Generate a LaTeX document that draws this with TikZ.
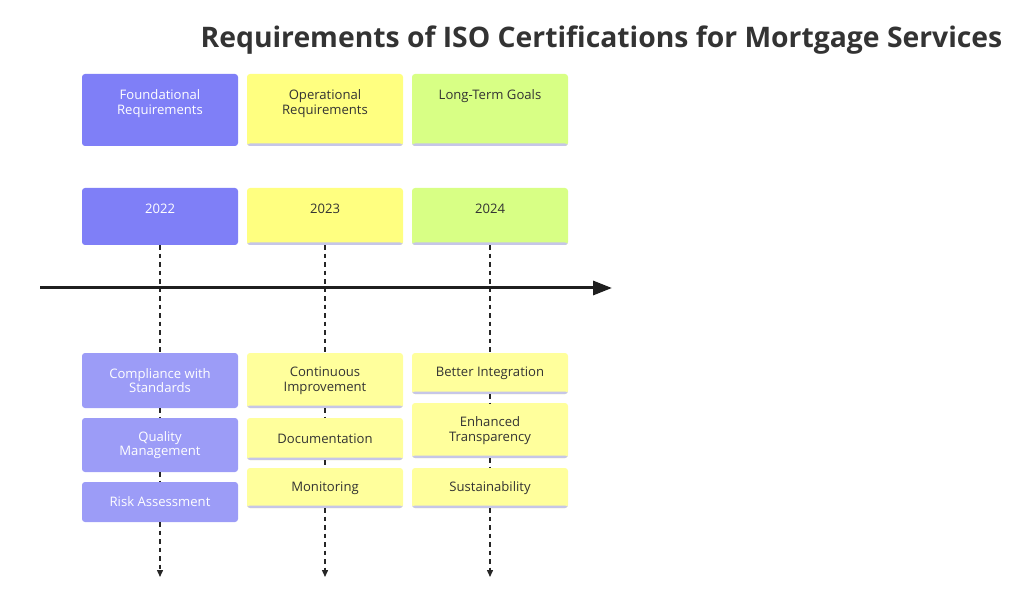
\documentclass[tikz,border=0pt]{standalone}
\usepackage{fontspec}
\setmainfont{Open Sans}
\usetikzlibrary{positioning,arrows.meta}

\definecolor{purphead}{HTML}{7F7FF7}
\definecolor{purpitem}{HTML}{9C9CF7}
\definecolor{yelhead}{HTML}{FFFF80}
\definecolor{yelitem}{HTML}{FFFF9C}
\definecolor{grnhead}{HTML}{D8FF85}
\definecolor{edgeline}{HTML}{C6C6E8}
\definecolor{inkgray}{HTML}{333333}

\begin{document}
\begin{tikzpicture}[
  x=1pt, y=-1pt,
  font=\fontsize{13.1}{14.6}\selectfont,
  card/.style={rounded corners=3pt, minimum width=156pt, inner sep=0pt, align=center, text=inkgray},
  ruled/.style={path picture={\fill[edgeline] (path picture bounding box.south west) rectangle ([yshift=2.5pt]path picture bounding box.south east);}},
  cardtext/.style={anchor=north, inner sep=0pt, align=center, text=inkgray},
  guide/.style={draw=black!85, line width=1.4pt, dash pattern=on 4.5pt off 4pt},
  timeline/.style={draw=black!88, line width=3pt, -{Triangle[length=19pt, width=14pt]}}
]
\useasboundingbox (0,0) rectangle (1024,593);

\node[font=\fontsize{28.3}{33}\selectfont\bfseries, text=inkgray] (title) at (601.5,40) {Requirements of ISO Certifications for Mortgage Services};

% headers
\node[card, fill=purphead, minimum height=72pt] (hdrfound) at (160,110) {};
\node[card, ruled, fill=yelhead, minimum height=72pt] (hdroper) at (325,110) {};
\node[card, ruled, fill=grnhead, minimum height=72pt] (hdrgoal) at (490,110) {};
\node[cardtext, text=white, below=16pt of hdrfound.north] (lblfound) {Foundational\\Requirements};
\node[cardtext, below=16pt of hdroper.north] (lbloper) {Operational\\Requirements};
\node[cardtext, below=16pt of hdrgoal.north] (lblgoal) {Long-Term Goals};

% years
\node[card, fill=purphead, minimum height=57pt] (yr22) at (160,216.5) {};
\node[card, ruled, fill=yelhead, minimum height=57pt] (yr23) at (325,216.5) {};
\node[card, ruled, fill=grnhead, minimum height=57pt] (yr24) at (490,216.5) {};
\node[cardtext, text=white, below=16pt of yr22.north] (lbl22) {2022};
\node[cardtext, below=16pt of yr23.north] (lbl23) {2023};
\node[cardtext, below=16pt of yr24.north] (lbl24) {2024};

% items
\node[card, fill=purpitem, text=white, minimum height=55pt] (comply) at (160,380.5) {Compliance with\\Standards};
\node[card, fill=purpitem, text=white, minimum height=54pt] (quality) at (160,445) {Quality\\Management};
\node[card, fill=purpitem, text=white, minimum height=40pt] (risk) at (160,502) {Risk Assessment};

\node[card, ruled, fill=yelitem, minimum height=55pt] (improve) at (325,380.5) {Continuous\\Improvement};
\node[card, ruled, fill=yelitem, minimum height=42pt] (docs) at (325,439) {Documentation};
\node[card, ruled, fill=yelitem, minimum height=40pt] (monitor) at (325,488) {Monitoring};

\node[card, ruled, fill=yelitem, minimum height=41pt] (integr) at (490,373.5) {Better Integration};
\node[card, ruled, fill=yelitem, minimum height=55pt] (transp) at (490,430.5) {Enhanced\\Transparency};
\node[card, ruled, fill=yelitem, minimum height=40pt] (sustain) at (490,488) {Sustainability};

\coordinate (end22) at (160,577);
\coordinate (end23) at (325,577);
\coordinate (end24) at (490,577);

% dashed guides
\draw[guide] (yr22) -- (comply);
\draw[guide] (comply) -- (quality);
\draw[guide] (quality) -- (risk);
\draw[guide, -{Triangle[length=7pt, width=6pt]}] (risk) -- (end22);
\draw[guide] (yr23) -- (improve);
\draw[guide] (improve) -- (docs);
\draw[guide] (docs) -- (monitor);
\draw[guide, -{Triangle[length=7pt, width=6pt]}] (monitor) -- (end23);
\draw[guide] (yr24) -- (integr);
\draw[guide] (integr) -- (transp);
\draw[guide] (transp) -- (sustain);
\draw[guide, -{Triangle[length=7pt, width=6pt]}] (sustain) -- (end24);

% timeline
\coordinate (tstart) at (40,288);
\coordinate (tend) at (612,288);
\draw[timeline] (tstart) -- (tend);
\end{tikzpicture}
\end{document}
